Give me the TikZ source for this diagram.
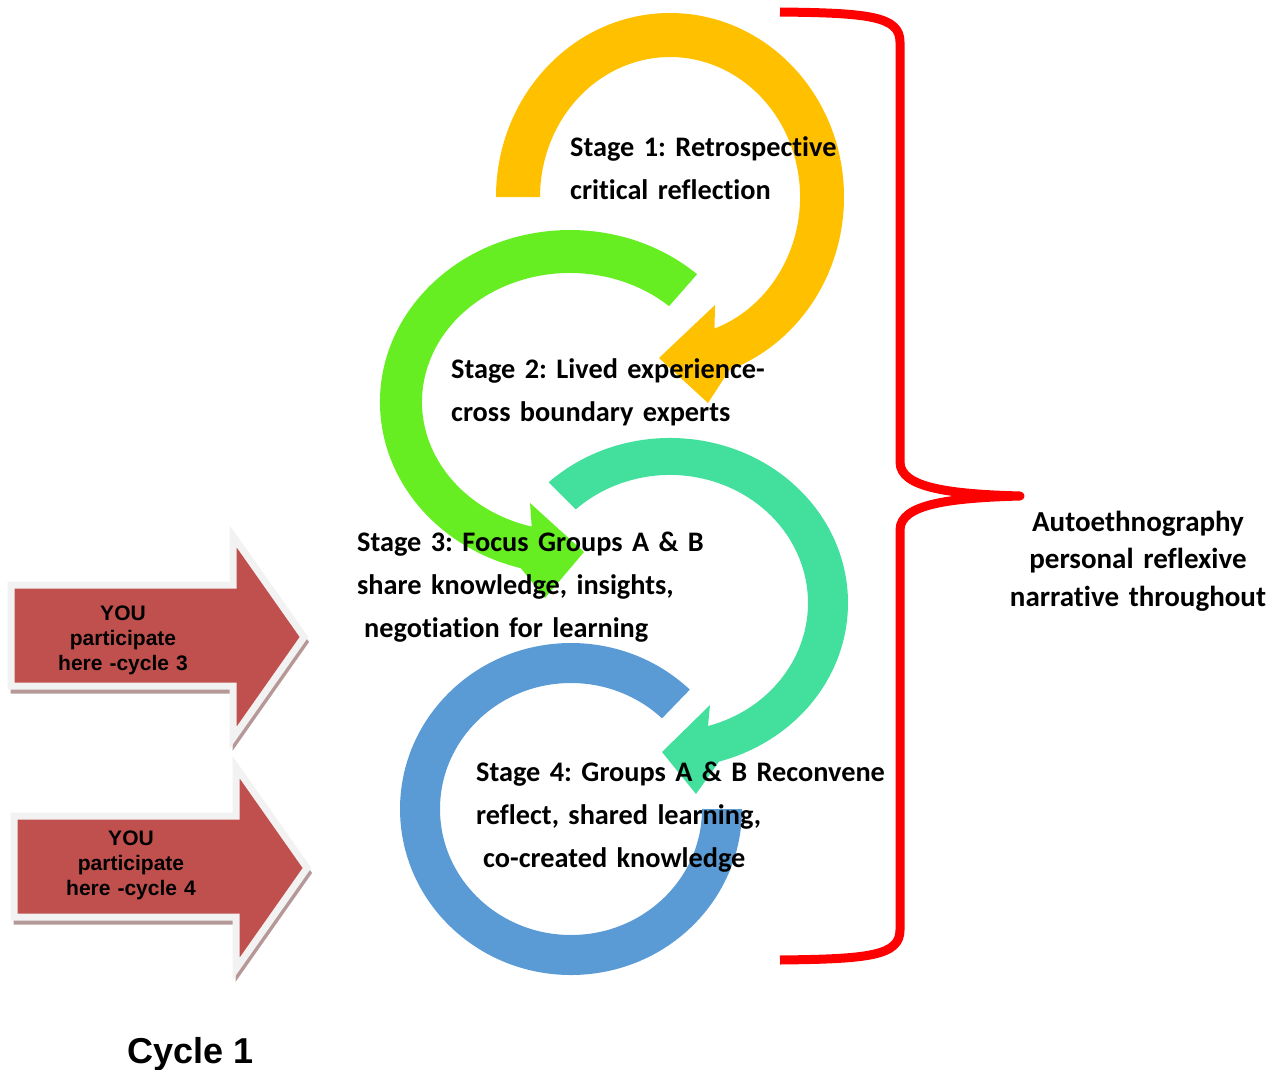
\documentclass[tikz,border=0pt]{standalone}
\usepackage{fontspec}
\setmainfont{Carlito}[Ligatures=NoCommon]
\newfontfamily\arialfont{Liberation Sans}
\frenchspacing

\definecolor{ringyellow}{HTML}{FFC000}
\definecolor{ringgreen}{HTML}{66EE22}
\definecolor{ringteal}{HTML}{42E09C}
\definecolor{ringblue}{HTML}{5B9BD5}
\definecolor{youred}{HTML}{C0504D}
\definecolor{yourim}{HTML}{F2F2F2}
\definecolor{youshade}{HTML}{B69898}

\begin{document}
\begin{tikzpicture}[x=1pt,y=-1pt,
  stage/.style={anchor=base west,align=left,text width=440pt,inner sep=0pt,
    font=\bfseries\fontsize{28.3}{43}\selectfont},
  you/.style={anchor=base,align=center,text width=220pt,inner sep=0pt,
    font=\arialfont\bfseries\fontsize{21}{25}\selectfont},
  youarrow/.style={fill=youred,draw=yourim,line width=7pt},
  youshadow/.style={fill=youshade,draw=youshade,line width=5pt}]
  \useasboundingbox (0,0) rectangle (1280,1070);

  % brace on the right
  \draw[red,line width=9pt,line join=round]
    (780,12) .. controls (868,13) and (900,16) .. (900,42) -- (900,462)
    .. controls (900,488) and (950,494) .. (1020,496)
    .. controls (950,498) and (900,504) .. (900,530) -- (900,930)
    .. controls (900,956) and (868,959) .. (780,960);

  % the four stage rings
  \fill[ringyellow] (496,197) arc[start angle=180,end angle=430,x radius=174,y radius=184]
    -- (708,403) -- (659,358) -- (715,305) -- (714.5,328.6)
    arc[start angle=70,end angle=-180,x radius=130,y radius=140] -- cycle;
  \fill[ringgreen] (697.1,274.2) arc[start angle=-48,end angle=-255,x radius=190,y radius=172]
    -- (545,598) -- (584,552) -- (530,503) -- (531.7,526.6)
    arc[start angle=105,end angle=312,x radius=148,y radius=129] -- cycle;
  \fill[ringteal] (548.6,482.3) arc[start angle=227,end angle=434,x radius=178,y radius=165]
    -- (696,794) -- (662,752) -- (710,705) -- (708,726)
    arc[start angle=74,end angle=-133,x radius=138,y radius=128] -- cycle;
  \fill[ringblue] (689.8,689.6) arc[start angle=-46,end angle=-360,x radius=171,y radius=166]
    -- (702,809)
    arc[start angle=0,end angle=314,x radius=131,y radius=126] -- cycle;

  % red arrows on the left
  \foreach \dx/\dy in {0/0,3/231}{
    \begin{scope}[shift={(\dx,\dy)}]
      \filldraw[youshadow,shift={(2,5)}] (11,585) -- (233,585) -- (233,536) -- (304,637)
        -- (233,738) -- (233,686) -- (11,686) -- cycle;
      \filldraw[youarrow] (11,585) -- (233,585) -- (233,536) -- (304,637)
        -- (233,738) -- (233,686) -- (11,686) -- cycle;
    \end{scope}
  }

  \node[stage] (stage1) at (570,157) {Stage 1: Retrospective\\critical reflection};
  \node[stage] (stage2) at (451,378) {Stage 2: Lived experience-\\cross boundary experts};
  \node[stage] (stage3) at (357,551) {Stage 3: Focus Groups A \& B\\share knowledge, insights,\\\hspace*{7pt}negotiation for learning};
  \node[stage] (stage4) at (476,781) {Stage 4: Groups A \& B Reconvene\\reflect, shared learning,\\\hspace*{7pt}co-created knowledge};

  \node[anchor=base,align=center,text width=300pt,inner sep=0pt,
    font=\bfseries\fontsize{29}{37.5}\selectfont] (auto) at (1138,531)
    {Autoethnography\\personal reflexive\\narrative throughout};

  \node[you] (you3) at (123,620) {YOU\\participate\\here -cycle 3};
  \node[you] (you4) at (131,845) {YOU\\participate\\here -cycle 4};
  \node[font=\arialfont\bfseries\fontsize{36}{40}\selectfont,anchor=base] (cycle) at (191,1063) {Cycle 1};
\end{tikzpicture}
\end{document}
